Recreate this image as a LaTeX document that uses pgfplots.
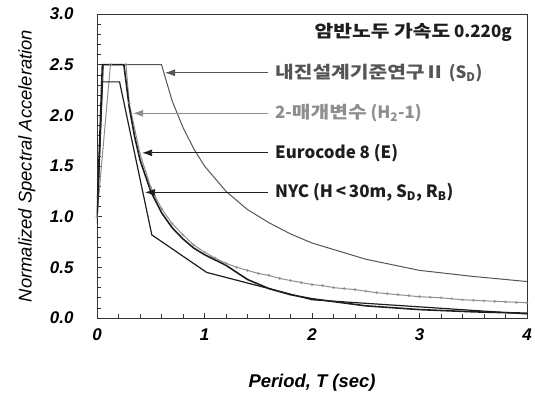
\documentclass[border=0pt]{standalone}
\usepackage{pgfplots}
\pgfplotsset{compat=1.18}
\usetikzlibrary{arrows.meta}
\usepackage{fontspec}
\setmainfont{Liberation Sans}
\newfontfamily\kr{Noto Sans CJK KR}
\newfontfamily\krw[FakeStretch=1.2]{Noto Sans CJK KR}

\definecolor{sdgray}{HTML}{555555}
\definecolor{h2gray}{HTML}{8E8E8E}
\definecolor{ecblack}{HTML}{1E1E1E}

% normalized spectra
\pgfplotstableread{
T    S
0    1.00
0.06 2.50
0.60 2.50
0.70 2.14
0.80 1.88
0.90 1.67
1.00 1.50
1.20 1.25
1.40 1.07
1.60 0.94
1.80 0.83
2.00 0.74
2.50 0.58
3.00 0.47
3.50 0.41
4.00 0.36
}\sdtab

\pgfplotstableread{
T    S
0    1.00
0.125 2.50
0.27 2.50
0.30 2.12
0.40 1.62
0.50 1.29
0.60 1.08
0.70 0.93
0.80 0.82
0.90 0.72
1.00 0.65
1.10 0.59
1.20 0.54
1.30 0.50
1.40 0.47
1.50 0.44
1.60 0.42
1.70 0.39
1.80 0.37
1.90 0.35
2.00 0.33
2.10 0.32
2.20 0.30
2.30 0.29
2.40 0.28
2.50 0.265
2.60 0.25
2.70 0.24
2.80 0.23
2.90 0.22
3.00 0.21
3.10 0.205
3.20 0.20
3.30 0.19
3.40 0.18
3.50 0.175
3.60 0.17
3.70 0.165
3.80 0.16
3.90 0.155
4.00 0.15
}\hztab

\pgfplotstableread{
T    S
0    1.00
0.05 2.50
0.25 2.50
0.30 2.08
0.35 1.79
0.40 1.56
0.50 1.25
0.60 1.04
0.70 0.89
0.80 0.78
0.90 0.69
1.00 0.625
1.20 0.52
1.40 0.38
1.60 0.29
1.80 0.23
2.00 0.19
2.50 0.12
3.00 0.083
3.50 0.061
4.00 0.047
}\ectab

\pgfplotstableread{
T    S
0    0.93
0.05 2.33
0.21 2.33
0.51 0.82
1.02 0.45
2.00 0.18
4.00 0.04
}\nyctab

\begin{document}
\begin{tikzpicture}
\path[use as bounding box] (-97bp,-83bp) rectangle (438bp,318bp);
\begin{axis}[
  width=430bp, height=304bp, scale only axis,
  xmin=0, xmax=4, ymin=0, ymax=3,
  xtick={0,1,2,3,4}, ytick={0,0.5,1,1.5,2,2.5,3},
  minor x tick num=4, minor y tick num=4,
  tick align=inside, xtick pos=bottom, ytick pos=left,
  major tick length=5bp, minor tick length=4bp,
  axis line style={draw=black!80, line width=0.8bp},
  tick style={black!80, line width=0.6bp},
  /pgf/number format/assume math mode=true,
  y tick label style={/pgf/number format/fixed, /pgf/number format/fixed zerofill, /pgf/number format/precision=1},
  tick label style={font=\fontsize{17}{17}\selectfont\bfseries\itshape},
  yticklabel style={xshift=-20bp},
  xticklabel style={yshift=-7bp},
  xlabel={Period, T (sec)},
  ylabel={Normalized Spectral Acceleration},
  xlabel style={font=\fontsize{18.5}{18.5}\selectfont\bfseries\itshape, at={(axis description cs:0.5,-0.214)}, anchor=center},
  ylabel style={font=\fontsize{18.5}{18.5}\selectfont\itshape, at={(axis description cs:-0.163,0.5)}, anchor=center},
]
\addplot[sdgray, line width=1bp] table[x=T, y=S] {\sdtab};
\addplot[h2gray, line width=1bp, mark=o, mark size=1.2bp, mark options={solid, line width=0.4bp}] table[x=T, y=S] {\hztab};
\addplot[ecblack, line width=1.6bp] table[x=T, y=S] {\ectab};
\addplot[ecblack, line width=1.2bp] table[x=T, y=S] {\nyctab};

% annotations
\draw[-{Latex[length=10bp,width=7bp]}, sdgray, line width=0.8bp] (axis cs:1.59,2.42) -- (axis cs:0.633,2.42);
\draw[-{Latex[length=10bp,width=7bp]}, h2gray, line width=0.8bp] (axis cs:1.59,2.02) -- (axis cs:0.335,2.02);
\draw[-{Latex[length=10bp,width=7bp]}, ecblack, line width=0.8bp] (axis cs:1.59,1.63) -- (axis cs:0.42,1.63);
\draw[-{Latex[length=10bp,width=7bp]}, ecblack, line width=0.8bp] (axis cs:1.59,1.24) -- (axis cs:0.447,1.24);

\node[anchor=west, inner sep=0pt, text=sdgray, font=\kr\fontsize{17}{17}\selectfont\bfseries] at (axis cs:1.655,2.42) {{\krw\bfseries 내진설계기준연구Ⅱ} (S\textsubscript{D})};
\node[anchor=west, inner sep=0pt, text=h2gray, font=\kr\fontsize{17}{17}\selectfont\bfseries] at (axis cs:1.655,2.02) {2-{\krw\bfseries 매개변수} (H\textsubscript{2}-1)};
\node[anchor=west, inner sep=0pt, text=ecblack, font=\kr\fontsize{17}{17}\selectfont\bfseries] at (axis cs:1.655,1.63) {Eurocode 8 (E)};
\node[anchor=west, inner sep=0pt, text=ecblack, font=\kr\fontsize{17}{17}\selectfont\bfseries] at (axis cs:1.655,1.24) {NYC (H\,<\,30m, S\textsubscript{D}, R\textsubscript{B})};
\node[anchor=east, inner sep=0pt, text=ecblack, font=\kr\fontsize{17}{17}\selectfont\bfseries] at (axis cs:3.86,2.82) {{\krw\bfseries 암반노두 가속도} 0.220g};
\end{axis}
\end{tikzpicture}
\end{document}
